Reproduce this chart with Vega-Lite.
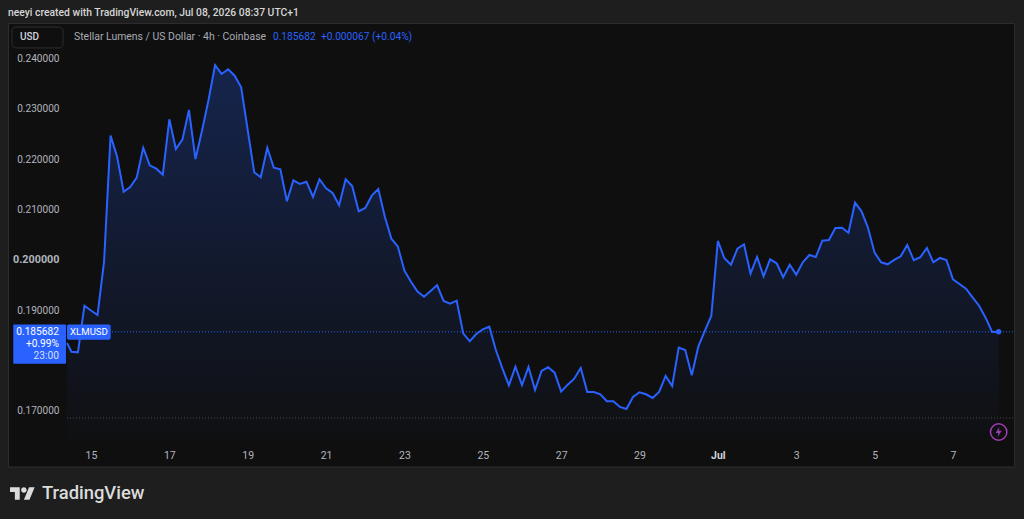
{
  "$schema": "https://vega.github.io/schema/vega-lite/v6.json",
  "width": 1024,
  "height": 519,
  "padding": 0,
  "autosize": "none",
  "background": "#1e1e1e",
  "config": {"view": {"stroke": null}, "text": {"font": "Roboto"}, "axis": {"labelFont": "Roboto"}},
  "datasets": {
    "xlm": [
      {"t":"2026-06-14T09:18:00Z","p":0.18346},{"t":"2026-06-14T12:00:00Z","p":0.18173},{"t":"2026-06-14T16:00:00Z","p":0.1816},{"t":"2026-06-14T20:00:00Z","p":0.19088},
      {"t":"2026-06-15T00:00:00Z","p":0.18993},{"t":"2026-06-15T04:00:00Z","p":0.18903},{"t":"2026-06-15T08:00:00Z","p":0.19957},{"t":"2026-06-15T12:00:00Z","p":0.22469},{"t":"2026-06-15T16:00:00Z","p":0.22051},{"t":"2026-06-15T20:00:00Z","p":0.21355},
      {"t":"2026-06-16T00:00:00Z","p":0.21449},{"t":"2026-06-16T04:00:00Z","p":0.21634},{"t":"2026-06-16T08:00:00Z","p":0.2223},{"t":"2026-06-16T12:00:00Z","p":0.2188},{"t":"2026-06-16T16:00:00Z","p":0.21813},{"t":"2026-06-16T20:00:00Z","p":0.21693},
      {"t":"2026-06-17T00:00:00Z","p":0.22795},{"t":"2026-06-17T04:00:00Z","p":0.22204},{"t":"2026-06-17T08:00:00Z","p":0.22389},{"t":"2026-06-17T12:00:00Z","p":0.2298},{"t":"2026-06-17T16:00:00Z","p":0.22005},{"t":"2026-06-17T20:00:00Z","p":0.22568},
      {"t":"2026-06-18T00:00:00Z","p":0.23179},{"t":"2026-06-18T04:00:00Z","p":0.23869},{"t":"2026-06-18T08:00:00Z","p":0.23696},{"t":"2026-06-18T12:00:00Z","p":0.23789},{"t":"2026-06-18T16:00:00Z","p":0.23662},{"t":"2026-06-18T20:00:00Z","p":0.23431},
      {"t":"2026-06-19T00:00:00Z","p":0.22582},{"t":"2026-06-19T04:00:00Z","p":0.21741},{"t":"2026-06-19T08:00:00Z","p":0.21642},{"t":"2026-06-19T12:00:00Z","p":0.2223},{"t":"2026-06-19T16:00:00Z","p":0.21832},{"t":"2026-06-19T20:00:00Z","p":0.21801},
      {"t":"2026-06-20T00:00:00Z","p":0.21164},{"t":"2026-06-20T04:00:00Z","p":0.21582},{"t":"2026-06-20T08:00:00Z","p":0.21508},{"t":"2026-06-20T12:00:00Z","p":0.21554},{"t":"2026-06-20T16:00:00Z","p":0.2125},{"t":"2026-06-20T20:00:00Z","p":0.21602},
      {"t":"2026-06-21T00:00:00Z","p":0.21423},{"t":"2026-06-21T04:00:00Z","p":0.21329},{"t":"2026-06-21T08:00:00Z","p":0.21085},{"t":"2026-06-21T12:00:00Z","p":0.21602},{"t":"2026-06-21T16:00:00Z","p":0.21468},{"t":"2026-06-21T20:00:00Z","p":0.20965},
      {"t":"2026-06-22T00:00:00Z","p":0.21031},{"t":"2026-06-22T04:00:00Z","p":0.21276},{"t":"2026-06-22T08:00:00Z","p":0.21409},{"t":"2026-06-22T12:00:00Z","p":0.20858},{"t":"2026-06-22T16:00:00Z","p":0.2042},{"t":"2026-06-22T20:00:00Z","p":0.20261},
      {"t":"2026-06-23T00:00:00Z","p":0.19784},{"t":"2026-06-23T04:00:00Z","p":0.19565},{"t":"2026-06-23T08:00:00Z","p":0.19367},{"t":"2026-06-23T12:00:00Z","p":0.19267},{"t":"2026-06-23T16:00:00Z","p":0.1938},{"t":"2026-06-23T20:00:00Z","p":0.19494},
      {"t":"2026-06-24T00:00:00Z","p":0.19182},{"t":"2026-06-24T04:00:00Z","p":0.19128},{"t":"2026-06-24T08:00:00Z","p":0.19188},{"t":"2026-06-24T12:00:00Z","p":0.18539},{"t":"2026-06-24T16:00:00Z","p":0.1838},{"t":"2026-06-24T20:00:00Z","p":0.18525},
      {"t":"2026-06-25T00:00:00Z","p":0.18619},{"t":"2026-06-25T04:00:00Z","p":0.1867},{"t":"2026-06-25T08:00:00Z","p":0.18207},{"t":"2026-06-25T12:00:00Z","p":0.17843},{"t":"2026-06-25T16:00:00Z","p":0.17505},{"t":"2026-06-25T20:00:00Z","p":0.17875},
      {"t":"2026-06-26T00:00:00Z","p":0.17511},{"t":"2026-06-26T04:00:00Z","p":0.17869},{"t":"2026-06-26T08:00:00Z","p":0.17412},{"t":"2026-06-26T12:00:00Z","p":0.1779},{"t":"2026-06-26T16:00:00Z","p":0.17863},{"t":"2026-06-26T20:00:00Z","p":0.17756},
      {"t":"2026-06-27T00:00:00Z","p":0.17378},{"t":"2026-06-27T04:00:00Z","p":0.17517},{"t":"2026-06-27T08:00:00Z","p":0.17636},{"t":"2026-06-27T12:00:00Z","p":0.17849},{"t":"2026-06-27T16:00:00Z","p":0.17372},{"t":"2026-06-27T20:00:00Z","p":0.17372},
      {"t":"2026-06-28T00:00:00Z","p":0.17326},{"t":"2026-06-28T04:00:00Z","p":0.17187},{"t":"2026-06-28T08:00:00Z","p":0.17187},{"t":"2026-06-28T12:00:00Z","p":0.17074},{"t":"2026-06-28T16:00:00Z","p":0.17034},{"t":"2026-06-28T20:00:00Z","p":0.17273},
      {"t":"2026-06-29T00:00:00Z","p":0.17366},{"t":"2026-06-29T04:00:00Z","p":0.17326},{"t":"2026-06-29T08:00:00Z","p":0.17253},{"t":"2026-06-29T12:00:00Z","p":0.17372},{"t":"2026-06-29T16:00:00Z","p":0.1769},{"t":"2026-06-29T20:00:00Z","p":0.17491},
      {"t":"2026-06-30T00:00:00Z","p":0.18253},{"t":"2026-06-30T04:00:00Z","p":0.18207},{"t":"2026-06-30T08:00:00Z","p":0.17704},{"t":"2026-06-30T12:00:00Z","p":0.18273},{"t":"2026-06-30T16:00:00Z","p":0.18585},{"t":"2026-06-30T20:00:00Z","p":0.18889},
      {"t":"2026-07-01T00:00:00Z","p":0.20375},{"t":"2026-07-01T04:00:00Z","p":0.20031},{"t":"2026-07-01T08:00:00Z","p":0.19903},{"t":"2026-07-01T12:00:00Z","p":0.20222},{"t":"2026-07-01T16:00:00Z","p":0.20309},{"t":"2026-07-01T20:00:00Z","p":0.19725},
      {"t":"2026-07-02T00:00:00Z","p":0.20057},{"t":"2026-07-02T04:00:00Z","p":0.19673},{"t":"2026-07-02T08:00:00Z","p":0.20011},{"t":"2026-07-02T12:00:00Z","p":0.19931},{"t":"2026-07-02T16:00:00Z","p":0.19653},{"t":"2026-07-02T20:00:00Z","p":0.19903},
      {"t":"2026-07-03T00:00:00Z","p":0.19705},{"t":"2026-07-03T04:00:00Z","p":0.19951},{"t":"2026-07-03T08:00:00Z","p":0.20096},{"t":"2026-07-03T12:00:00Z","p":0.20057},{"t":"2026-07-03T16:00:00Z","p":0.20381},{"t":"2026-07-03T20:00:00Z","p":0.20395},
      {"t":"2026-07-04T00:00:00Z","p":0.20633},{"t":"2026-07-04T04:00:00Z","p":0.20639},{"t":"2026-07-04T08:00:00Z","p":0.2054},{"t":"2026-07-04T12:00:00Z","p":0.21136},{"t":"2026-07-04T16:00:00Z","p":0.20965},{"t":"2026-07-04T20:00:00Z","p":0.20633},
      {"t":"2026-07-05T00:00:00Z","p":0.20142},{"t":"2026-07-05T04:00:00Z","p":0.19951},{"t":"2026-07-05T08:00:00Z","p":0.19911},{"t":"2026-07-05T12:00:00Z","p":0.19997},{"t":"2026-07-05T16:00:00Z","p":0.2007},{"t":"2026-07-05T20:00:00Z","p":0.20295},
      {"t":"2026-07-06T00:00:00Z","p":0.19991},{"t":"2026-07-06T04:00:00Z","p":0.20051},{"t":"2026-07-06T08:00:00Z","p":0.20236},{"t":"2026-07-06T12:00:00Z","p":0.19951},{"t":"2026-07-06T16:00:00Z","p":0.20037},{"t":"2026-07-06T20:00:00Z","p":0.19997},
      {"t":"2026-07-07T00:00:00Z","p":0.19613},{"t":"2026-07-07T04:00:00Z","p":0.1952},{"t":"2026-07-07T08:00:00Z","p":0.19426},{"t":"2026-07-07T12:00:00Z","p":0.19255},{"t":"2026-07-07T16:00:00Z","p":0.19088},{"t":"2026-07-07T20:00:00Z","p":0.1885},
      {"t":"2026-07-08T00:00:00Z","p":0.18565},{"t":"2026-07-08T04:00:00Z","p":0.185682}
    ]
  },
  "data": {"values": [{}]},
  "layer": [
    {
      "mark": {"type": "rect", "fill": "#0f0f0f", "stroke": "#2e2e2e", "strokeWidth": 1},
      "encoding": {
        "x": {
          "datum": {"utc": true, "year": 2026, "month": 6, "date": 12, "hours": 21, "minutes": 28},
          "type": "temporal",
          "scale": {"type": "utc", "domain": ["2026-06-12T16:16:00Z", "2026-07-08T19:31:00Z"]},
          "axis": {
            "title": null,
            "orient": "bottom",
            "offset": -69,
            "domain": false,
            "ticks": false,
            "grid": false,
            "zindex": 1,
            "labelPadding": 0,
            "labelColor": {"condition": {"test": "utcdate(datum.value) == 1", "value": "#d1d4dc"}, "value": "#b2b5be"},
            "labelFontWeight": {"condition": {"test": "utcdate(datum.value) == 1", "value": "bold"}, "value": "normal"},
            "labelFontSize": 10.5,
            "labelBaseline": "top",
            "labelOverlap": false,
            "labelFlush": false,
            "values": [
              {"utc": true, "year": 2026, "month": 6, "date": 15}, {"utc": true, "year": 2026, "month": 6, "date": 17}, {"utc": true, "year": 2026, "month": 6, "date": 19},
              {"utc": true, "year": 2026, "month": 6, "date": 21}, {"utc": true, "year": 2026, "month": 6, "date": 23}, {"utc": true, "year": 2026, "month": 6, "date": 25},
              {"utc": true, "year": 2026, "month": 6, "date": 27}, {"utc": true, "year": 2026, "month": 6, "date": 29}, {"utc": true, "year": 2026, "month": 7, "date": 1},
              {"utc": true, "year": 2026, "month": 7, "date": 3}, {"utc": true, "year": 2026, "month": 7, "date": 5}, {"utc": true, "year": 2026, "month": 7, "date": 7}
            ],
            "labelExpr": "utcdate(datum.value) == 1 ? 'Jul' : '' + utcdate(datum.value)"
          }
        },
        "x2": {"datum": {"utc": true, "year": 2026, "month": 7, "date": 8, "hours": 13, "minutes": 46}},
        "y": {
          "datum": 0.247,
          "type": "quantitative",
          "scale": {"domain": [0.14846, 0.25167], "nice": false, "zero": false},
          "axis": {
            "title": null,
            "orient": "left",
            "offset": -59,
            "domain": false,
            "ticks": false,
            "grid": false,
            "zindex": 1,
            "labelPadding": 0,
            "labelAlign": "right",
            "labelBaseline": "middle",
            "labelColor": "#b2b5be",
            "labelFontSize": {"condition": {"test": "datum.value == 0.2", "value": 10.8}, "value": 10.1},
            "labelFontWeight": {"condition": {"test": "datum.value == 0.2", "value": "bold"}, "value": "normal"},
            "labelOverlap": false,
            "format": ".6f",
            "values": [0.17, 0.19, 0.2, 0.21, 0.22, 0.23, 0.24]
          }
        },
        "y2": {"datum": 0.1588}
      }
    },
    {
      "data": {"name": "xlm"},
      "mark": {"type": "area", "color": {"gradient": "linear", "x1": 0, "y1": 0, "x2": 0, "y2": 1, "stops": [{"offset": 0, "color": "rgba(41,98,255,0.26)"}, {"offset": 1, "color": "rgba(41,98,255,0.012)"}]}},
      "encoding": {
        "x": {"field": "t", "type": "temporal"},
        "y": {"field": "p", "type": "quantitative"},
        "y2": {"datum": 0.16417}
      }
    },
    {
      "mark": {"type": "rule", "color": "#2962ff", "strokeDash": [1, 2], "strokeWidth": 1},
      "encoding": {
        "x": {"datum": {"utc": true, "year": 2026, "month": 6, "date": 14, "hours": 9, "minutes": 18}, "type": "temporal"},
        "x2": {"datum": {"utc": true, "year": 2026, "month": 7, "date": 8, "hours": 13, "minutes": 46}},
        "y": {"datum": 0.185682, "type": "quantitative"}
      }
    },
    {
      "mark": {"type": "rule", "color": "#4a4d55", "strokeDash": [1, 2], "strokeWidth": 1},
      "encoding": {
        "x": {"datum": {"utc": true, "year": 2026, "month": 6, "date": 14, "hours": 9, "minutes": 18}, "type": "temporal"},
        "x2": {"datum": {"utc": true, "year": 2026, "month": 7, "date": 8, "hours": 13, "minutes": 46}},
        "y": {"datum": 0.16855, "type": "quantitative"}
      }
    },
    {
      "data": {"name": "xlm"},
      "mark": {"type": "line", "color": "#2962ff", "strokeWidth": 2},
      "encoding": {
        "x": {"field": "t", "type": "temporal"},
        "y": {"field": "p", "type": "quantitative"}
      }
    },
    {
      "mark": {"type": "point", "filled": true, "color": "#2962ff", "opacity": 1, "size": 30},
      "encoding": {
        "x": {"datum": {"utc": true, "year": 2026, "month": 7, "date": 8, "hours": 4}, "type": "temporal"},
        "y": {"datum": 0.185682, "type": "quantitative"}
      }
    },
    {
      "mark": {"type": "rect", "fill": "#2962ff", "cornerRadius": 1},
      "encoding": {
        "x": {"datum": {"utc": true, "year": 2026, "month": 6, "date": 13, "hours": 0, "minutes": 24}, "type": "temporal"},
        "x2": {"datum": {"utc": true, "year": 2026, "month": 6, "date": 14, "hours": 8, "minutes": 41}},
        "y": {"datum": 0.18714, "type": "quantitative"},
        "y2": {"datum": 0.17935}
      }
    },
    {
      "mark": {"type": "rect", "fill": "#2962ff", "cornerRadius": 2},
      "encoding": {
        "x": {"datum": {"utc": true, "year": 2026, "month": 6, "date": 14, "hours": 9, "minutes": 18}, "type": "temporal"},
        "x2": {"datum": {"utc": true, "year": 2026, "month": 6, "date": 15, "hours": 12, "minutes": 4}},
        "y": {"datum": 0.18714, "type": "quantitative"},
        "y2": {"datum": 0.18412}
      }
    },
    {
      "mark": {"type": "text", "text": "XLMUSD", "color": "#ffffff", "fontSize": 9.6, "align": "center", "baseline": "middle"},
      "encoding": {
        "x": {"datum": {"utc": true, "year": 2026, "month": 6, "date": 14, "hours": 22, "minutes": 46}, "type": "temporal"},
        "y": {"datum": 0.18559, "type": "quantitative"}
      }
    },
    {
      "mark": {"type": "text", "text": "0.185682", "color": "#ffffff", "fontSize": 10.2, "align": "right", "baseline": "middle"},
      "encoding": {
        "x": {"datum": {"utc": true, "year": 2026, "month": 6, "date": 14, "hours": 4, "minutes": 24}, "type": "temporal"},
        "y": {"datum": 0.18559, "type": "quantitative"}
      }
    },
    {
      "mark": {"type": "text", "text": "+0.99%", "color": "#ffffff", "fontSize": 10.2, "align": "right", "baseline": "middle"},
      "encoding": {
        "x": {"datum": {"utc": true, "year": 2026, "month": 6, "date": 14, "hours": 4, "minutes": 24}, "type": "temporal"},
        "y": {"datum": 0.18317, "type": "quantitative"}
      }
    },
    {
      "mark": {"type": "text", "text": "23:00", "color": "#d4deff", "fontSize": 10.2, "align": "right", "baseline": "middle"},
      "encoding": {
        "x": {"datum": {"utc": true, "year": 2026, "month": 6, "date": 14, "hours": 4, "minutes": 24}, "type": "temporal"},
        "y": {"datum": 0.18078, "type": "quantitative"}
      }
    },
    {
      "mark": {"type": "text", "text": "neeyi created with TradingView.com, Jul 08, 2026 08:37 UTC+1", "color": "#d6d6d6", "fontSize": 10.35, "fontWeight": 500, "align": "left", "baseline": "middle"},
      "encoding": {
        "x": {"datum": {"utc": true, "year": 2026, "month": 6, "date": 12, "hours": 21, "minutes": 10}, "type": "temporal"},
        "y": {"datum": 0.24909, "type": "quantitative"}
      }
    },
    {
      "mark": {"type": "rect", "fill": "#0f0f0f", "stroke": "#2e2e2e", "strokeWidth": 1, "cornerRadius": 4},
      "encoding": {
        "x": {"datum": {"utc": true, "year": 2026, "month": 6, "date": 12, "hours": 23, "minutes": 37}, "type": "temporal"},
        "x2": {"datum": {"utc": true, "year": 2026, "month": 6, "date": 14, "hours": 6, "minutes": 51}},
        "y": {"datum": 0.2463, "type": "quantitative"},
        "y2": {"datum": 0.24213}
      }
    },
    {
      "mark": {"type": "text", "text": "USD", "color": "#d1d4dc", "fontSize": 10, "fontWeight": 500, "align": "left", "baseline": "middle"},
      "encoding": {
        "x": {"datum": {"utc": true, "year": 2026, "month": 6, "date": 13, "hours": 4, "minutes": 31}, "type": "temporal"},
        "y": {"datum": 0.24432, "type": "quantitative"}
      }
    },
    {
      "mark": {"type": "text", "text": "Stellar Lumens / US Dollar · 4h · Coinbase", "color": "#a8abb4", "fontSize": 10.45, "align": "left", "baseline": "middle"},
      "encoding": {
        "x": {"datum": {"utc": true, "year": 2026, "month": 6, "date": 14, "hours": 13, "minutes": 35}, "type": "temporal"},
        "y": {"datum": 0.2444, "type": "quantitative"}
      }
    },
    {
      "mark": {"type": "text", "text": "0.185682", "color": "#2962ff", "fontSize": 10.2, "align": "left", "baseline": "middle"},
      "encoding": {
        "x": {"datum": {"utc": true, "year": 2026, "month": 6, "date": 19, "hours": 15, "minutes": 28}, "type": "temporal"},
        "y": {"datum": 0.2444, "type": "quantitative"}
      }
    },
    {
      "mark": {"type": "text", "text": "+0.000067 (+0.04%)", "color": "#2962ff", "fontSize": 10.2, "align": "left", "baseline": "middle"},
      "encoding": {
        "x": {"datum": {"utc": true, "year": 2026, "month": 6, "date": 20, "hours": 20, "minutes": 52}, "type": "temporal"},
        "y": {"datum": 0.2444, "type": "quantitative"}
      }
    },
    {
      "mark": {"type": "point", "shape": "M-.222.5H-.611V-.111H-1V-.5H-.222ZM.556.5H.111L.528-.5H.972ZM-.111-.278a.222.222 0 1 0 .444 0a.222.222 0 1 0-.444 0Z", "filled": true, "color": "#dbdbdb", "opacity": 1, "size": 625},
      "encoding": {
        "x": {"datum": {"utc": true, "year": 2026, "month": 6, "date": 13, "hours": 6, "minutes": 3}, "type": "temporal"},
        "y": {"datum": 0.15354, "type": "quantitative"}
      }
    },
    {
      "mark": {"type": "text", "text": "TradingView", "color": "#dbdbdb", "fontSize": 18.4, "fontWeight": 500, "align": "left", "baseline": "middle"},
      "encoding": {
        "x": {"datum": {"utc": true, "year": 2026, "month": 6, "date": 13, "hours": 17, "minutes": 59}, "type": "temporal"},
        "y": {"datum": 0.15354, "type": "quantitative"}
      }
    },
    {
      "mark": {"type": "point", "filled": false, "color": "#a23cb5", "strokeWidth": 1.5, "opacity": 1, "size": 270},
      "encoding": {
        "x": {"datum": {"utc": true, "year": 2026, "month": 7, "date": 8, "hours": 4}, "type": "temporal"},
        "y": {"datum": 0.16576, "type": "quantitative"}
      }
    },
    {
      "mark": {"type": "point", "shape": "M.15-1L-.6.2H-.05L-.2 1L.6-.25H.05Z", "filled": true, "color": "#a23cb5", "opacity": 1, "size": 100},
      "encoding": {
        "x": {"datum": {"utc": true, "year": 2026, "month": 7, "date": 8, "hours": 4}, "type": "temporal"},
        "y": {"datum": 0.16576, "type": "quantitative"}
      }
    }
  ]
}
